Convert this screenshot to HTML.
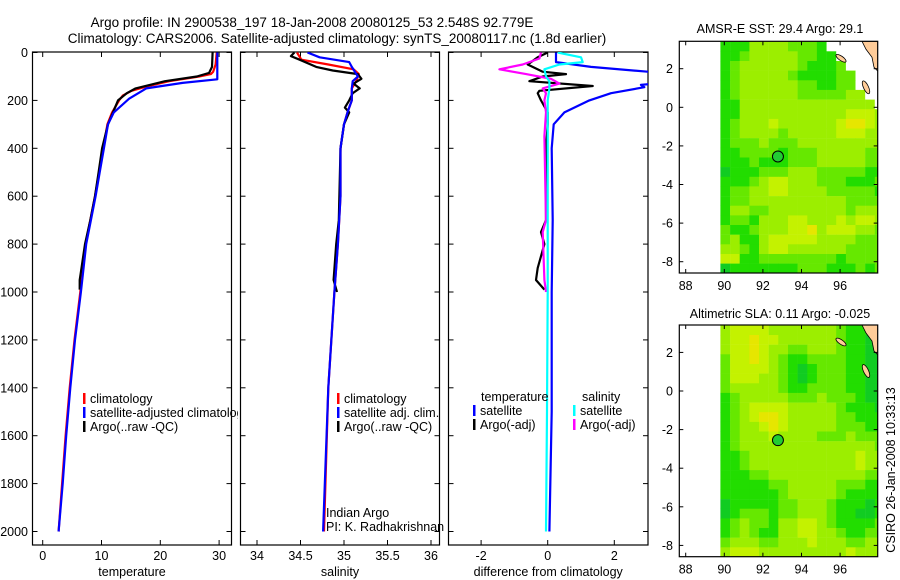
<!DOCTYPE html>
<html><head><meta charset="utf-8">
<style>
html,body{margin:0;padding:0;background:#fff;}
svg{display:block;font-family:"Liberation Sans",Arial,sans-serif;}
text{fill:#000;}
</style></head>
<body>
<svg id="fig" width="900" height="580" viewBox="0 0 900 580">
<defs>
<clipPath id="c1"><rect x="32.5" y="52" width="199" height="493"/></clipPath>
<clipPath id="c2"><rect x="240.5" y="52" width="199" height="493"/></clipPath>
<clipPath id="c3"><rect x="448.5" y="52" width="199.5" height="493"/></clipPath>
<clipPath id="legclip"><rect x="0" y="380" width="238" height="60"/></clipPath>
</defs>
<text x="312" y="27" font-size="13.5" text-anchor="middle">Argo profile: IN 2900538_197 18-Jan-2008 20080125_53 2.548S 92.779E</text>
<text x="337" y="43" font-size="13.5" text-anchor="middle">Climatology: CARS2006. Satellite-adjusted climatology: synTS_20080117.nc (1.8d earlier)</text>
<g id="g1"></g>
<g id="g2"></g>
<g id="g3"></g>
<g id="m1"></g>
<g id="m2"></g>
<text x="780" y="33" font-size="12.5" text-anchor="middle">AMSR-E SST: 29.4  Argo: 29.1</text>
<text x="780" y="318" font-size="12.5" text-anchor="middle">Altimetric SLA: 0.11  Argo: -0.025</text>
<text transform="translate(895,470) rotate(-90)" font-size="12.5" text-anchor="middle">CSIRO 26-Jan-2008 10:33:13</text>
</svg>
<script>
// ---- profile data ----
const tClimDepth = [0,50,80,90,100,120,140,160,180,200,250,300,400,500,600,700,800,1000,1200,1400,1600,1800,2000];
const tClimVal   = [29.6,29.4,29.0,28.6,26.6,21.5,18.0,15.1,13.6,13.0,11.8,11.0,10.3,9.6,8.9,8.1,7.3,6.4,5.4,4.6,3.9,3.3,2.7];
const tSatDepth  = [0,50,100,112,127,150,193,250,300,400,500,600,700,800,1000,1200,1400,1600,1800,2000];
const tSatVal    = [29.7,29.7,29.7,29.7,23.8,17.6,14.7,12.1,11.1,10.4,9.7,9.0,8.2,7.4,6.5,5.5,4.7,4.0,3.4,2.7];
const tArgoDepth = [0,60,85,100,120,150,170,200,300,400,500,600,700,800,900,950,990];
const tArgoVal   = [28.9,28.8,28.3,26.2,20.8,15.8,14.3,12.8,11.1,10.1,9.5,8.9,8.1,7.2,6.6,6.3,6.3];

const sClimDepth = [0,30,50,70,90,120,150,200,250,300,400,600,800,1000,1400,2000];
const sClimVal   = [34.46,34.51,34.82,35.11,35.17,35.14,35.09,35.09,35.04,35.00,34.96,34.96,34.93,34.89,34.82,34.77];
const sSatDepth  = [0,20,40,60,100,120,150,200,250,300,400,600,800,1000,1400,2000];
const sSatVal    = [34.58,34.72,35.06,35.09,35.16,35.10,35.09,35.09,35.04,35.00,34.96,34.96,34.93,34.89,34.82,34.76];
const sArgoDepth = [0,15,30,60,75,90,110,130,150,170,200,230,250,300,400,700,800,950,1000];
const sArgoVal   = [34.43,34.39,34.49,34.68,34.87,35.16,35.20,35.11,35.18,35.10,35.06,35.01,35.06,35.00,34.96,34.94,34.91,34.88,34.92];

const dTSatDepth = [0,40,60,80,95,110,125,135,145,170,200,250,300,400,700,1000,1500,2000];
const dTSatVal   = [0.25,0.25,1.3,3.0,5,5,3.8,2.8,2.9,1.9,1.25,0.5,0.18,0.12,0.15,0.12,0.12,0.05];
const dTArgoDepth= [0,20,50,80,90,100,120,140,160,170,200,250,300,400,700,750,800,900,950,990];
const dTArgoVal  = [0.0,-0.3,-0.6,-0.15,0.55,-0.15,-0.55,1.35,-0.25,-0.3,-0.2,0.0,0.0,-0.05,-0.05,-0.2,-0.1,-0.3,-0.35,-0.1];
const dSSatDepth = [0,20,40,50,70,100,120,150,200,1000,1500,2000];
const dSSatVal   = [0.3,1.0,1.05,0.35,-0.1,-0.05,0.05,0.05,0.0,0.0,-0.02,-0.05];
const dSArgoDepth= [0,25,50,70,90,110,130,150,170,200,250,350,700,750,950,1000];
const dSArgoVal  = [-0.2,-0.25,-0.75,-1.45,-0.65,0.1,0.35,-0.15,-0.05,-0.1,-0.05,-0.1,-0.05,-0.15,-0.1,-0.05];

const depthTicks = [0,200,400,600,800,1000,1200,1400,1600,1800,2000];
const tempTicks = [0,10,20,30];
const salTicks = [34,34.5,35,35.5,36];
const diffTicks = [-2,0,2];

// ---- map data (lon 89.8 + 0.5*i, lat 3.4 - 0.5*j); w = no data, L = land ----
const sstRows = [
"11133332221wwwwww","112333332211wwwww","1233333321112wwww","12333332111122www",
"12333333221122www","123333332222233ww","1133333333333333w","11333333333334443",
"12333433333345543","12333323333344433","12223222333333333","11222212223333322",
"11121112223333322","01112223332222211","11123443332221112","12233443333222221",
"12233333333332222","13322333333332333","12213334433343443","21123334453444332",
"23113444443333222","33213443333332222","44112222222212222","01111111222111212"];
const slaRows = [
"34444333333321111","34454433333321101","34454332233321100","24454321122221100",
"24444321012221100","24443321012221100","23333321122221100","12333332223222100",
"12344443333321110","12345543333322111","12334543333322211","12333433332223222",
"12333333333333332","11233333333333433","11233333333333433","11122333333333322",
"11111223333322211","11111123333321111","01111122333211101","01222122333211001",
"12322133443211112","12321133443321122","23332233343332233","34443333333334333"];
const mapLonTicks = [88,90,92,94,96];
const mapLatTicks = [2,0,-2,-4,-6,-8];
const argoLon = 92.779, argoLat = -2.548;

const NS='http://www.w3.org/2000/svg';
function mk(tag, attrs, parent){const e=document.createElementNS(NS,tag);for(const k in attrs)e.setAttribute(k,attrs[k]);parent.appendChild(e);return e;}

const yD = d => 52.5 + d*0.2395;
const xT = t => 42.7 + 5.88*t;
const xS = s => 257 + 87*(s-34);
const xDf = v => 547.7 + 33.3*v;

function line(parent, depths, vals, xf, color, w, clip, name){
  const pts = depths.map((d,i)=>xf(vals[i]).toFixed(1)+','+yD(d).toFixed(1)).join(' ');
  const p = mk('polyline',{points:pts,fill:'none',stroke:color,'stroke-width':w,'stroke-linejoin':'round','clip-path':'url(#'+clip+')'},parent);
  
  
}

function panel(g, x0, x1, ticks, xf, fmt, showY, label, lblName){
  const fr = mk('rect',{x:x0,y:52,width:x1-x0,height:493,fill:'none',stroke:'#000','stroke-width':1.2},g);
  
  
  depthTicks.forEach(d=>{
    const y=yD(d);
    mk('line',{x1:x0,x2:x0+5,y1:y,y2:y,stroke:'#000'},g);
    mk('line',{x1:x1-5,x2:x1,y1:y,y2:y,stroke:'#000'},g);
    if(showY){const t=mk('text',{x:28,y:y+4.5,'font-size':12.5,'text-anchor':'end'},g);t.textContent=d;
      
      }
  });
  ticks.forEach(v=>{
    const x=xf(v);
    mk('line',{x1:x,x2:x,y1:52,y2:57,stroke:'#000'},g);
    mk('line',{x1:x,x2:x,y1:540,y2:545,stroke:'#000'},g);
    const t=mk('text',{x:x,y:560,'font-size':12.5,'text-anchor':'middle'},g);t.textContent=fmt(v);
    
    
  });
  const t=mk('text',{x:(x0+x1)/2,y:576,'font-size':12.5,'text-anchor':'middle'},g);t.textContent=label;
  
  
}
function legend(g,x,y,color,txt,name,clip){
  mk('rect',{x:x,y:y-10,width:2.5,height:11,fill:color},g);
  const t=mk('text',{x:x+7,y:y,'font-size':12.5},g);t.textContent=txt;
  if(clip) t.setAttribute('clip-path','url(#'+clip+')');
  
  
}

const g1=document.getElementById('g1'),g2=document.getElementById('g2'),g3=document.getElementById('g3');
panel(g1,32.5,231.5,tempTicks,xT,v=>v,true,'temperature','temperature');
line(g1,tClimDepth,tClimVal,xT,'#ff0000',2.2,'c1','temp-climatology-line');
line(g1,tArgoDepth,tArgoVal,xT,'#000',2.2,'c1','temp-argo-line');
line(g1,tSatDepth,tSatVal,xT,'#0000ff',2.2,'c1','temp-satellite-line');
legend(g1,83,403,'#ff0000','climatology','legend-climatology');
legend(g1,83,417,'#0000ff','satellite-adjusted climatology','legend-satellite-adjusted','legclip');
legend(g1,83,431,'#000','Argo(..raw -QC)','legend-argo');

panel(g2,240.5,439.5,salTicks,xS,v=>v,false,'salinity','salinity');
line(g2,sClimDepth,sClimVal,xS,'#ff0000',2.2,'c2','sal-climatology-line');
line(g2,sArgoDepth,sArgoVal,xS,'#000',2.2,'c2','sal-argo-line');
line(g2,sSatDepth,sSatVal,xS,'#0000ff',2.2,'c2','sal-satellite-line');
legend(g2,337,403,'#ff0000','climatology','legend-sal-climatology');
legend(g2,337,417,'#0000ff','satellite adj. clim.','legend-sal-satellite');
legend(g2,337,431,'#000','Argo(..raw -QC)','legend-sal-argo');
[['Indian Argo',517,'indian-argo-note'],['PI: K. Radhakrishnan',531,'pi-note']].forEach(a=>{
  const t=mk('text',{x:326,y:a[1],'font-size':12.5},g2);t.textContent=a[0];
  
  
});

panel(g3,448.5,648,diffTicks,xDf,v=>v,false,'difference from climatology','difference');
line(g3,dTArgoDepth,dTArgoVal,xDf,'#000',2.2,'c3','diff-temp-argo-line');
line(g3,dSArgoDepth,dSArgoVal,xDf,'#ff00ff',2.2,'c3','diff-sal-argo-line');
line(g3,dTSatDepth,dTSatVal,xDf,'#0000ff',2.2,'c3','diff-temp-satellite-line');
line(g3,dSSatDepth,dSSatVal,xDf,'#00ffff',2.2,'c3','diff-sal-satellite-line');
(function(){const t=mk('text',{x:481,y:401,'font-size':12.5},g3);t.textContent='temperature';
 
 const s=mk('text',{x:582,y:401,'font-size':12.5},g3);s.textContent='salinity';
 })();
legend(g3,473,415,'#0000ff','satellite','legend-diff-temp-satellite');
legend(g3,473,429,'#000','Argo(-adj)','legend-diff-temp-argo');
legend(g3,573,415,'#00ffff','satellite','legend-diff-sal-satellite');
legend(g3,573,429,'#ff00ff','Argo(-adj)','legend-diff-sal-argo');

// ---- maps ----
const colors={'0':'#11cc22','1':'#22dd00','2':'#66e800','3':'#9cee00','4':'#c4f200','5':'#e6e600','w':'#ffffff','L':'#ffcc99'};
function map(g, top, rows, name){
  const L=679.3,R=877.7,B=top+231.7;
  const lonX = lon => 685.7 + (lon-88)*19.3;
  const latY = lat => top + (3.42-lat)*19.3;
  const cg=mk('g',{},g);
  
  
  const cid='clip'+name;
  const cp=mk('clipPath',{id:cid},g); mk('rect',{x:L,y:top,width:R-L,height:B-top},cp);
  cg.setAttribute('clip-path','url(#'+cid+')');
  rows.forEach((row,j)=>{
    for(let i=0;i<row.length;i++){
      const lon=89.8+0.5*i, lat=3.4-0.5*j;
      const x=lonX(lon), y=latY(lat);
      const c=mk('rect',{x:x.toFixed(1),y:y.toFixed(1),width:9.9,height:9.9,fill:colors[row[i]]||'#fff'},cg);
      
      
    }
  });
  // land / islands
  const coast=mk('path',{d:'M862,'+top+' L866,'+(top+8)+' L872,'+(top+16)+' L874,'+(top+26)+' L878,'+(top+30)+' L878,'+top+' Z',fill:'#ffcc99',stroke:'#000','stroke-width':0.8},cg);
  
  const land=[[841,top+17,6,2.2,35],[866,top+46,2.5,7,-25]];
  land.forEach(a=>{const e=mk('ellipse',{cx:a[0],cy:a[1],rx:a[2],ry:a[3],fill:'#ffcc99',stroke:'#000','stroke-width':0.8,transform:'rotate('+a[4]+' '+a[0]+' '+a[1]+')'},cg);
    });
  const fr=mk('rect',{x:L,y:top,width:R-L,height:B-top,fill:'none',stroke:'#000','stroke-width':1.2},g);
  
  mapLonTicks.forEach(v=>{const x=lonX(v);
    mk('line',{x1:x,x2:x,y1:top,y2:top+4,stroke:'#000'},g);mk('line',{x1:x,x2:x,y1:B-4,y2:B,stroke:'#000'},g);
    const t=mk('text',{x:x,y:B+17,'font-size':12.5,'text-anchor':'middle'},g);t.textContent=v;
    });
  mapLatTicks.forEach(v=>{const y=latY(v);
    mk('line',{x1:L,x2:L+4,y1:y,y2:y,stroke:'#000'},g);mk('line',{x1:R-4,x2:R,y1:y,y2:y,stroke:'#000'},g);
    const t=mk('text',{x:673,y:y+4.5,'font-size':12.5,'text-anchor':'end'},g);t.textContent=v;
    });
  const c=mk('circle',{cx:lonX(argoLon),cy:latY(argoLat),r:5.5,fill:'#22cc33',stroke:'#000','stroke-width':1},g);
  
  
}
map(document.getElementById('m1'),41.3,sstRows,'sst-map');
map(document.getElementById('m2'),325,slaRows,'sla-map');
</script>
</body></html>
